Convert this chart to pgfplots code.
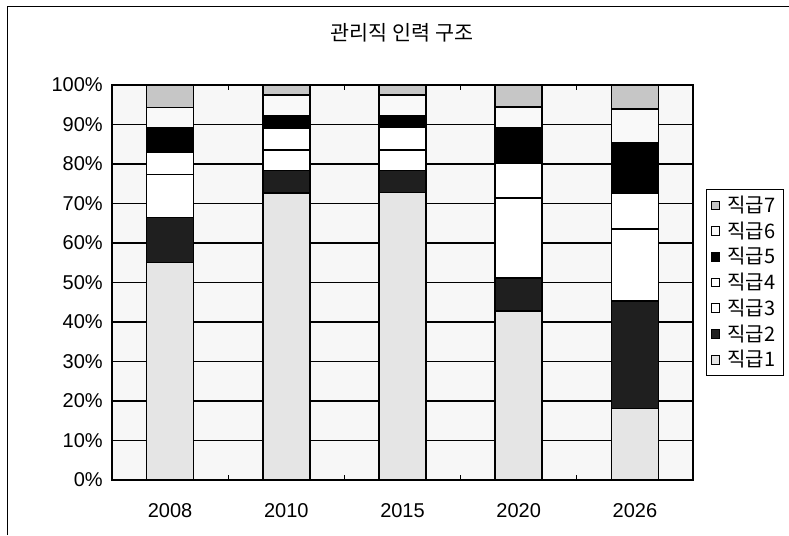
\documentclass[border=0pt]{standalone}
\usepackage{pgfplots}
\pgfplotsset{compat=1.18}
\usepackage{fontspec}
\setmainfont{Liberation Sans}
\newfontfamily\kr{Noto Sans CJK KR}

% grade shares per year (segment heights, %), grades 1..7 from bottom
\pgfplotstableread{
x  g1    g2    g3    g4   g5    g6   g7
0  55.0  11.5  10.9  5.7  6.0   5.2  5.7
1  72.6  5.8   5.2   5.5  3.1   5.3  2.5
2  72.8  5.6   5.2   5.7  3.0   5.2  2.5
3  42.8  8.4   20.2  8.7  9.0   5.3  5.6
4  18.1  27.2  18.3  9.0  12.8  8.5  6.1
}\grades

\begin{document}
\begin{tikzpicture}
\path[use as bounding box] (0pt,0pt) rectangle (473.4pt,321pt);
% chart frame (top and left edges)
\draw[line width=0.6pt] (4.2pt,0pt) -- (4.2pt,316.8pt) -- (473.4pt,316.8pt);
\node[font=\kr\fontsize{12.4}{14}\selectfont] at (241.2pt,301.2pt) {관리직 인력 구조};
\begin{axis}[
  at={(67.2pt,33pt)}, anchor=south west,
  scale only axis, width=348.6pt, height=237pt,
  ybar stacked, bar width=28.2pt,
  xmin=-0.5, xmax=4.5, ymin=0, ymax=100,
  xtick=data, xticklabels={2008,2010,2015,2020,2026},
  minor xtick={0.5,1.5,2.5,3.5},
  ytick={0,10,...,100},
  yticklabels={0\%,10\%,20\%,30\%,40\%,50\%,60\%,70\%,80\%,90\%,100\%},
  tick align=inside, major tick length=0pt, minor tick length=3pt,
  ymajorgrids, grid style={black, line width=0.9pt},
  axis line style={black, line width=0.9pt},
  axis background/.style={fill=gray!6},
  tick style={black, line width=0.8pt},
  ticklabel style={font=\fontsize{12}{14}\selectfont},
  yticklabel style={xshift=-2pt},
  xticklabel style={yshift=-10.5pt},
  /pgf/number format/assume math mode=true,
  reverse legend,
  legend style={at={(1.0224,0.737)}, anchor=north west, draw=black, line width=0.5pt,
    font=\kr\fontsize{12}{14}\selectfont, row sep=0pt, inner xsep=3pt, inner ysep=2pt,
    cells={anchor=west}},
  legend image code/.code={%
    \draw[#1, line width=0.6pt] (0.6pt,-2.6pt) rectangle (5.4pt,2.6pt);
    \path (7.5pt,0pt);},
  every axis plot/.append style={draw=black, line width=0.9pt},
]
\addplot[fill=gray!20] table[x=x,y=g1]{\grades};
\addplot[fill=black!88] table[x=x,y=g2]{\grades};
\addplot[fill=white] table[x=x,y=g3]{\grades};
\addplot[fill=white] table[x=x,y=g4]{\grades};
\addplot[fill=black] table[x=x,y=g5]{\grades};
\addplot[fill=gray!5] table[x=x,y=g6]{\grades};
\addplot[fill=gray!45] table[x=x,y=g7]{\grades};
\legend{직급1,직급2,직급3,직급4,직급5,직급6,직급7}
\end{axis}
\end{tikzpicture}
\end{document}
